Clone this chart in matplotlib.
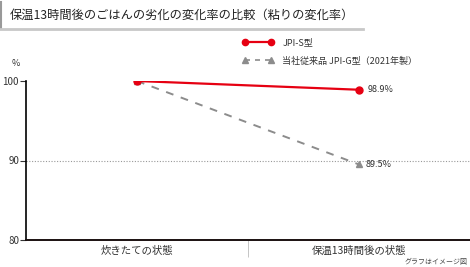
import matplotlib
matplotlib.use("Agg")
import matplotlib.pyplot as plt
from matplotlib.lines import Line2D

plt.rcParams['font.family'] = ['Noto Sans CJK JP', 'DejaVu Sans']

categories = ["炊きたての状態", "保温13時間後の状態"]
series_s = [100.0, 98.9]
series_g = [100.0, 89.5]
label_s = "JPI-S型"
label_g = "当社従来品 JPI-G型（2021年製）"
yticks = [80, 90, 100]
title = "保温13時間後のごはんの劣化の変化率の比較（粘りの変化率）"

RED = "#e60012"
GRAY = "#8c8c8c"
W, H = 470, 267
fig = plt.figure(figsize=(W/100, H/100), dpi=100)

# title decoration
fig.add_artist(Line2D([1/W, 1/W], [1-2/H, 1-29/H], color="#999999", lw=1.5))
fig.add_artist(Line2D([0, 363/W], [1-29/H, 1-29/H], color="#c8c8c8", lw=2))
fig.text(10/W, 1-15/H, title, fontsize=8.8, va="center", ha="left", color="#222222")

ax = fig.add_axes([26/W, 1-240/H, (W-26)/W, (240-81)/H])
x = list(range(len(categories)))
ax.plot(x, series_g, color=GRAY, lw=1.4, ls=(0, (4, 4)), marker="^", ms=4.5, zorder=3)
ax.plot(x, series_s, color=RED, lw=1.6, marker="o", ms=5, zorder=4)
ax.axhline(90, color="#999999", lw=0.8, ls=(0, (1, 1.5)), zorder=1)

ax.set_xlim(-0.5, 1.5)
ax.set_ylim(80, 100)
ax.set_yticks(yticks)
ax.set_yticklabels([str(v) for v in yticks], fontsize=7, color="#333333")
ax.tick_params(axis="y", length=4, width=0.8, pad=1, color="#333333")
ax.set_xticks(x)
ax.set_xticklabels(categories, fontsize=7.5, color="#333333")
ax.tick_params(axis="x", length=0, pad=4)
ax.set_xticks([0.5], minor=True)
ax.tick_params(axis="x", which="minor", length=12, width=0.6, color="#bbbbbb")
for s in ["top", "right"]:
    ax.spines[s].set_visible(False)
ax.spines["left"].set_linewidth(1.2)
ax.spines["bottom"].set_linewidth(1.4)
ax.spines["bottom"].set_color("#1a1010")
ax.patch.set_visible(False)

ax.annotate(f"{series_s[1]}%", (x[1], series_s[1]), xytext=(6, 0), textcoords="offset points",
            fontsize=6.5, va="center", ha="left", color="#333333")
ax.annotate(f"{series_g[1]}%", (x[1], series_g[1]), xytext=(5, 0), textcoords="offset points",
            fontsize=6.5, va="center", ha="left", color="#333333")

fig.text(16/W, 1-63/H, "%", fontsize=6.5, ha="center", va="center", color="#333333")

# legend
h1 = Line2D([], [], color=RED, lw=1.6, marker="o", ms=4.5)
h2 = Line2D([], [], color=GRAY, lw=1.2, ls=(0, (3, 3)), marker="^", ms=4)
fig.legend([h1, h2], [label_s, label_g], loc="upper left", bbox_to_anchor=(238/W, 1-34/H),
           frameon=False, fontsize=6.5, handlelength=3.5, labelspacing=1.0, handletextpad=0.9,
           borderpad=0, numpoints=2, labelcolor="#333333")

fig.text(468/W, 1-262/H, "グラフはイメージ図", fontsize=5, ha="right", va="center", color="#444444")

fig.savefig("out.png", dpi=100)
